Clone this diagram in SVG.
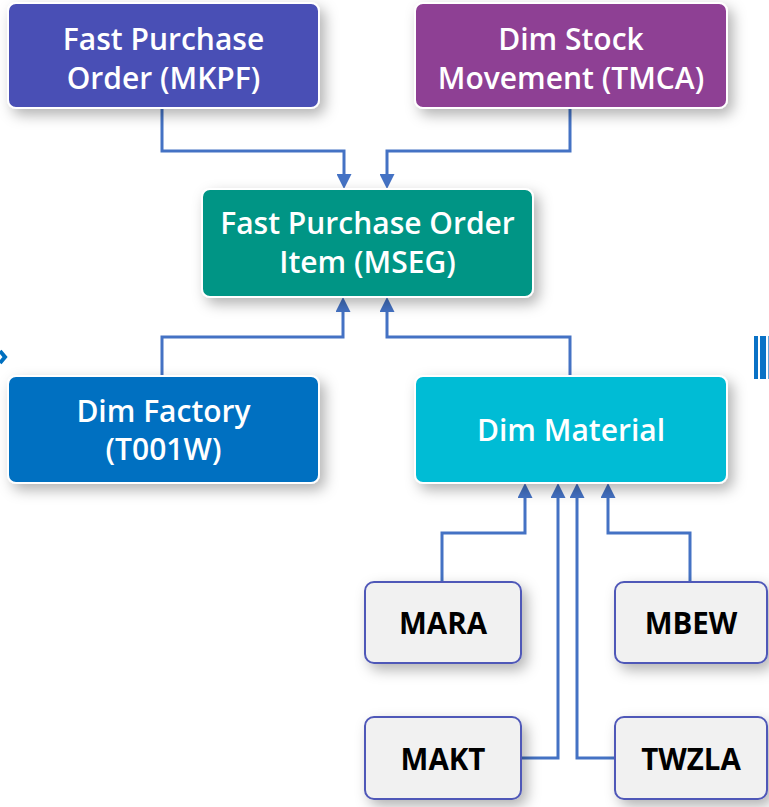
<svg xmlns="http://www.w3.org/2000/svg" width="769" height="807" viewBox="0 0 769 807">
<defs>
<style>
.box{stroke:#ffffff;stroke-width:2}
.small{fill:#f1f1f1;stroke:#5058b8;stroke-width:2}
.wt{fill:#ffffff;font-family:"Open Sans","Noto Sans",sans-serif;font-weight:600;font-size:30px;text-anchor:middle}
.bt{fill:#000000;font-family:"Open Sans","Noto Sans",sans-serif;font-weight:700;font-size:29.5px;text-anchor:middle}
.conn{fill:none;stroke:#4472c4;stroke-width:3;marker-end:url(#arr)}
</style>
<filter id="sh" x="-20%" y="-30%" width="140%" height="170%">
<feDropShadow dx="5" dy="6" stdDeviation="7" flood-color="#000" flood-opacity="0.3"/>
</filter>
<marker id="arr" viewBox="0 0 15 15" markerWidth="15" markerHeight="15" refX="0" refY="7.5" orient="auto" markerUnits="userSpaceOnUse">
<path d="M0,0 L15,7.5 L0,15 z" fill="#4472c4"/>
</marker>
</defs>
<rect width="769" height="807" fill="#ffffff"/>
<polyline points="0,351 5,357 0,363" fill="none" stroke="#0070c0" stroke-width="4"/>
<rect x="754" y="336" width="4" height="43" fill="#0a72c6"/>
<rect x="760" y="336" width="6" height="43" fill="#0a72c6"/>
<rect x="768" y="336" width="1" height="43" fill="#6aa7dc"/>
<g id="connectors">
<path class="conn" d="M162,108 V151 H344 V174"/>
<path class="conn" d="M570,108 V151 H387 V174"/>
<path class="conn" d="M162,376 V337 H343 V312"/>
<path class="conn" d="M570,376 V337 H387 V312"/>
<path class="conn" d="M442,582 V533 H525 V498"/>
<path class="conn" d="M690,582 V533 H608 V498"/>
<path class="conn" d="M521,758 H558 V498"/>
<path class="conn" d="M615,758 H577 V498"/>
</g>
<g id="mkpf">
<rect class="box" x="8" y="3" width="311" height="105" rx="8" fill="#4a50b5" filter="url(#sh)"/>
<text class="wt" x="163.5" y="50">Fast Purchase</text>
<text class="wt" x="163.5" y="89">Order (MKPF)</text>
</g>
<g id="tmca">
<rect class="box" x="415" y="3" width="312" height="105" rx="8" fill="#8e3f94" filter="url(#sh)"/>
<text class="wt" x="571" y="50">Dim Stock</text>
<text class="wt" x="571" y="89">Movement (TMCA)</text>
</g>
<g id="mseg">
<rect class="box" x="202" y="189" width="331" height="108" rx="8" fill="#009585" filter="url(#sh)"/>
<text class="wt" x="367.5" y="234">Fast Purchase Order</text>
<text class="wt" x="367.5" y="273">Item (MSEG)</text>
</g>
<g id="factory">
<rect class="box" x="8" y="376" width="311" height="107" rx="8" fill="#0070c1" filter="url(#sh)"/>
<text class="wt" x="163.5" y="422">Dim Factory</text>
<text class="wt" x="163.5" y="460">(T001W)</text>
</g>
<g id="material">
<rect class="box" x="415" y="376" width="312" height="107" rx="8" fill="#00bcd5" filter="url(#sh)"/>
<text class="wt" x="571" y="441">Dim Material</text>
</g>
<g id="mara">
<rect class="small" x="365" y="582" width="156" height="81" rx="9" filter="url(#sh)"/>
<text class="bt" x="443" y="634">MARA</text>
</g>
<g id="mbew">
<rect class="small" x="615" y="582" width="152" height="81" rx="9" filter="url(#sh)"/>
<text class="bt" x="691" y="634">MBEW</text>
</g>
<g id="makt">
<rect class="small" x="365" y="717" width="156" height="82" rx="9" filter="url(#sh)"/>
<text class="bt" x="443" y="770">MAKT</text>
</g>
<g id="twzla">
<rect class="small" x="615" y="717" width="152" height="82" rx="9" filter="url(#sh)"/>
<text class="bt" x="691" y="770">TWZLA</text>
</g>
</svg>
